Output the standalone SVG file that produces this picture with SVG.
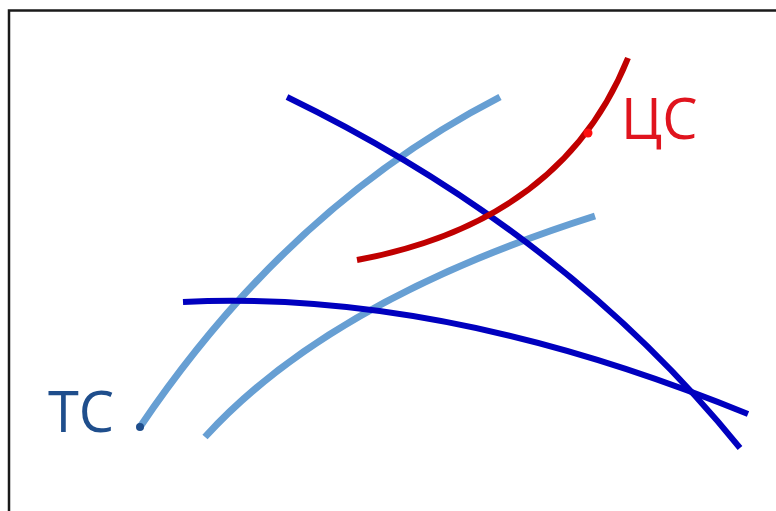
<svg xmlns="http://www.w3.org/2000/svg" width="776" height="511" viewBox="0 0 776 511">
<style>
.c{fill:none;stroke-linecap:butt}
.lb{stroke:#679fd3;stroke-width:7}
.db{stroke:#0000bf;stroke-width:6}
.rd{stroke:#c00000;stroke-width:6}
.lbl{font-family:"Open Sans","Noto Sans",sans-serif;font-size:56px}
</style>
<rect width="776" height="511" fill="#fff"/>
<path d="M9,511 V10.5 H776" fill="none" stroke="#1a1a1a" stroke-width="2.5"/>
<g id="connectors">
<path id="lightA" class="c lb" d="M140,427 Q290,205 500,97"/>
<path id="lightB" class="c lb" d="M205,437 Q330,300 595,216"/>
<path id="darkC" class="c db" d="M287,97 Q565,232 740,448"/>
<path id="darkD" class="c db" d="M183,302 Q443,289 748,414"/>
<path id="redE" class="c rd" d="M357,260 Q562,222 628,58"/>
</g>
<g id="TC">
<circle cx="140" cy="427" r="4" fill="#1f4e8c"/>
<text class="lbl" x="48" y="432" fill="#1f4e8c">ТС</text>
</g>
<g id="CS">
<circle cx="588" cy="133" r="4.5" fill="#ff1010"/>
<text class="lbl" x="621" y="139" fill="#e0141e">ЦС</text>
</g>
</svg>
